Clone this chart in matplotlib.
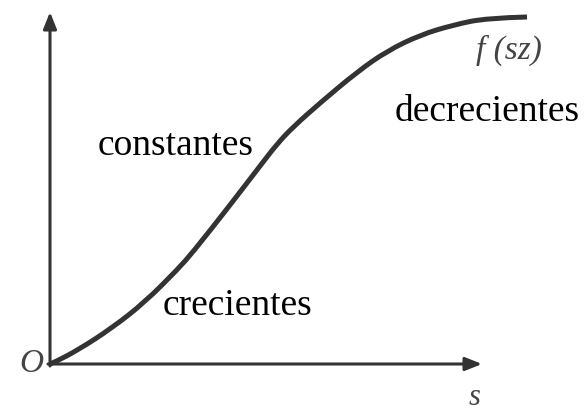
import numpy as np
import matplotlib.pyplot as plt
from matplotlib.path import Path
from matplotlib.patches import PathPatch

# Curve (arbitrary units, origin at O)
sVals = [0, 5, 28, 62, 95, 128, 143, 177, 210, 227, 243, 270, 307, 337, 370, 403, 437, 477]
fVals = [0, 2, 14, 36, 62, 95, 112, 155, 198, 220, 237, 261, 292, 313, 329, 339, 346, 347]

regionLabels = ['crecientes', 'constantes', 'decrecientes']
curveLabel = 'f (sz)'
originLabel = 'O'
axisLabel = 's'

ink = '#333333'

fig = plt.figure(figsize=(5.86, 4.13), dpi=100)
ax = fig.add_axes([0, 0, 1, 1])
ax.set_xlim(-50, 536)
ax.set_ylim(-49, 364)
ax.axis('off')

# Axes with arrow heads
arrowProps = dict(arrowstyle='-|>,head_length=1.0,head_width=0.4', color=ink, lw=2.2, shrinkA=0, shrinkB=0)
ax.annotate('', xy=(432, 0), xytext=(-2, 0), arrowprops=arrowProps)
ax.annotate('', xy=(0, 352), xytext=(0, -2), arrowprops=arrowProps)

# Smooth curve: quadratic Bezier pieces with the read points as controls
pts = np.column_stack([sVals, fVals]).astype(float)
verts = [pts[0]]
codes = [Path.MOVETO]
for i in range(1, len(pts) - 1):
    mid = (pts[i] + pts[i + 1]) / 2 if i < len(pts) - 2 else pts[i + 1]
    verts += [pts[i], mid]
    codes += [Path.CURVE3, Path.CURVE3]
ax.add_patch(PathPatch(Path(verts, codes), facecolor='none', edgecolor=ink, lw=3.6, capstyle='butt'))

serif = 'Liberation Serif'
ax.text(187, 58, regionLabels[0], fontsize=27, family=serif, ha='center', va='center')
ax.text(126, 218, regionLabels[1], fontsize=27, family=serif, ha='center', va='center')
ax.text(345, 252, regionLabels[2], fontsize=27, family=serif, ha='left', va='center')

ax.text(426, 314, curveLabel, fontsize=24, family=serif, style='italic', ha='left', va='center', color='#444444')
ax.text(-19, 0, originLabel, fontsize=24, family=serif, style='italic', ha='center', va='center', color='#444444')
ax.text(425, -41, axisLabel, fontsize=22, family=serif, style='italic', ha='center', va='baseline', color='#444444')

plt.savefig('out.png', dpi=100)
